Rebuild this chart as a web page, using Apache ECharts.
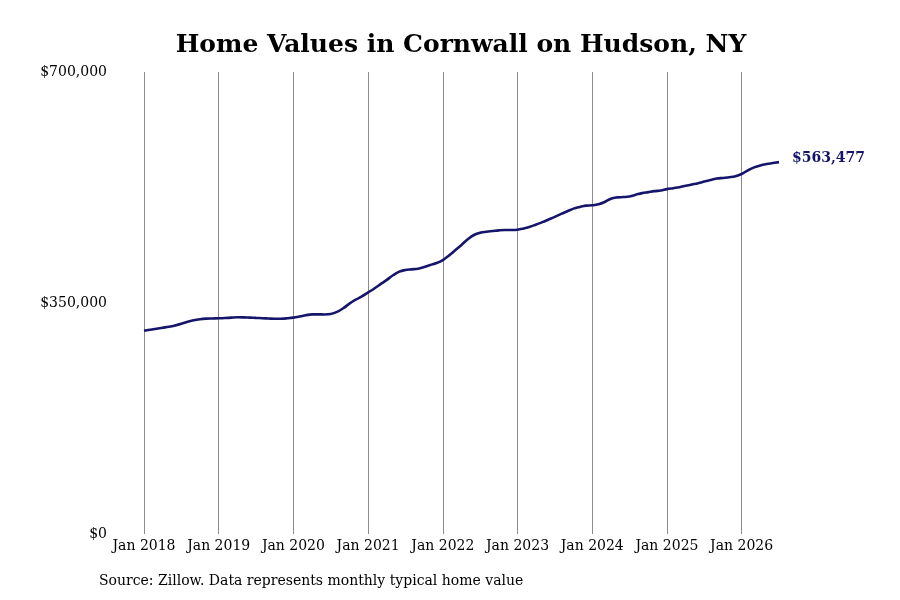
<!DOCTYPE html>
<html>
<head>
<meta charset="utf-8">
<script src="https://cdn.jsdelivr.net/npm/echarts@6/dist/echarts.min.js"></script>
<style>
  html, body { margin: 0; padding: 0; background: #fff; }
  #chart { width: 900px; height: 600px; }
</style>
</head>
<body>
<div id="chart"></div>
<script>
// typical home value, monthly, Jan 2018 .. Jul 2026 (thousands of dollars)
var values = [
  308, 309.5, 311, 312.5, 314, 316, 318.5, 321.5, 324, 325.5, 326.3, 326.6,
  326.8, 327.2, 327.8, 328.3, 328.2, 327.8, 327.4, 327, 326.5, 326.1, 326.2, 326.8,
  327.8, 329.5, 331.5, 332.8, 332.8, 332.6, 333.3, 336.5, 342, 349, 355, 360,
  366, 372, 378.5, 385, 392, 397.5, 400, 401, 402, 404.5, 407.5, 410.5,
  415, 422, 430, 438, 446.5, 453, 456.5, 458, 459, 460, 460.5, 460.5,
  461, 463, 465.5, 469, 472.5, 476.5, 480.5, 485, 489, 493, 495.5, 497.5,
  498, 499.5, 503, 508, 510, 510.5, 511.5, 514, 516.5, 518, 519.5, 520.5,
  522.5, 524, 525.5, 527.5, 529.5, 531.5, 534, 536.5, 538.5, 539.5, 540.5, 542,
  545.5, 551, 555.5, 558.5, 560.5, 562, 563.477
];
var monthNames = ['Jan','Feb','Mar','Apr','May','Jun','Jul','Aug','Sep','Oct','Nov','Dec'];
var startYear = 2018;
var yTicks = [0, 350000, 700000];

var categories = [];
for (var i = 0; i < values.length; i++) {
  categories.push(monthNames[i % 12] + ' ' + (startYear + Math.floor(i / 12)));
}
var seriesData = values.map(function (v) { return Math.round(v * 1000); });

function money(v) {
  return '$' + Math.round(v).toString().replace(/\B(?=(\d{3})+(?!\d))/g, ',');
}
function isJan(idx) { return idx % 12 === 0; }

var chart = echarts.init(document.getElementById('chart'));
var option = {
  backgroundColor: '#ffffff',
  animation: false,
  textStyle: { fontFamily: 'DejaVu Serif' },
  title: {
    text: 'Home Values in Cornwall on Hudson, NY',
    left: 456, top: 28, textAlign: 'center',
    textStyle: { fontFamily: 'DejaVu Serif', fontWeight: 'bold', fontSize: 25, color: '#000' }
  },
  grid: { left: 144, right: 121, top: 72, bottom: 66, containLabel: false },
  xAxis: {
    type: 'category',
    data: categories,
    boundaryGap: false,
    axisLine: { show: false },
    axisTick: { show: false },
    axisLabel: {
      interval: function (idx) { return isJan(idx); },
      color: '#000', fontSize: 14, margin: 5, fontFamily: 'DejaVu Serif'
    },
    splitLine: {
      show: true,
      interval: function (idx) { return isJan(idx); },
      lineStyle: { color: '#8c8c8c', width: 1 }
    }
  },
  yAxis: {
    type: 'value',
    min: yTicks[0], max: yTicks[yTicks.length - 1], interval: yTicks[1] - yTicks[0],
    axisLine: { show: false },
    axisTick: { show: false },
    splitLine: { show: false },
    axisLabel: {
      formatter: money, color: '#000', fontSize: 14, margin: 37, fontFamily: 'DejaVu Serif',
      padding: [7, 0, 0, 0]
    }
  },
  series: [{
    type: 'line',
    data: seriesData,
    smooth: 0.4,
    symbol: 'none',
    lineStyle: { color: '#15156b', width: 2.6 },
    endLabel: {
      show: true,
      formatter: function (p) { return money(p.value); },
      color: '#15156b', fontWeight: 'bold', fontSize: 14, distance: 13,
      offset: [0, -4],
      fontFamily: 'DejaVu Serif'
    }
  }],
  graphic: [{
    type: 'text',
    left: 99, top: 574,
    style: {
      text: 'Source: Zillow. Data represents monthly typical home value',
      fill: '#000', font: '14px "DejaVu Serif"'
    }
  }]
};
chart.setOption(option);
</script>
</body>
</html>
